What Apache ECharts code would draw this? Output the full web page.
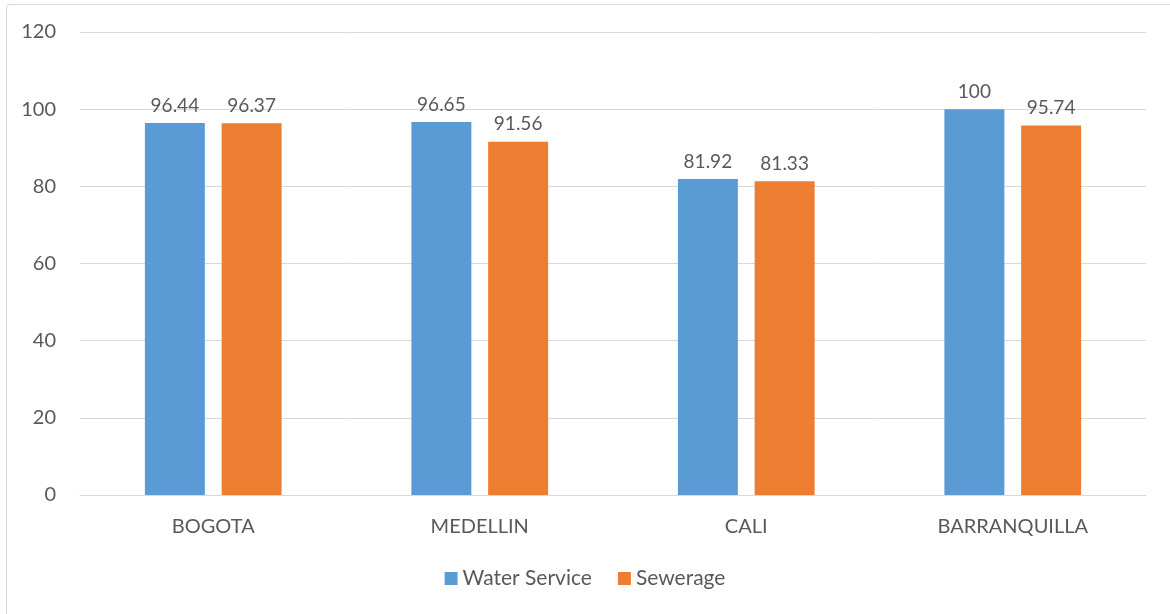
<!DOCTYPE html>
<html lang="en">
<head>
    <meta charset="UTF-8">
    <title>Water Service and Sewerage coverage</title>
    <script src="https://cdn.jsdelivr.net/npm/echarts@6/dist/echarts.min.js"></script>
    <style>
        html, body { margin: 0; padding: 0; background: #fff; }
        .frame {
            position: absolute;
            left: 6px;
            top: 4px;
            width: 1200px;
            height: 700px;
            border: 1px solid #d9d9d9;
            border-radius: 4px;
        }
        #chart {
            position: absolute;
            left: 0;
            top: 0;
            width: 1170px;
            height: 614px;
        }
    </style>
</head>
<body>
    <div class="frame"></div>
    <div id="chart"></div>
    <script type="text/javascript">
        var cities = ['BOGOTA', 'MEDELLIN', 'CALI', 'BARRANQUILLA'];
        var waterService = [96.44, 96.65, 81.92, 100];
        var sewerage = [96.37, 91.56, 81.33, 95.74];

        var textColor = '#595959';
        var font = 'Lato, "Open Sans", sans-serif';

        var myChart = echarts.init(document.getElementById('chart'));

        var barLabel = {
            show: true,
            position: 'top',
            distance: 8,
            color: textColor,
            fontSize: 19,
            fontFamily: font
        };

        var option = {
            animation: false,
            textStyle: { fontFamily: font },
            grid: { left: 80, right: 24, top: 32, bottom: 119 },
            legend: {
                data: ['Water Service', 'Sewerage'],
                bottom: 20,
                left: 'center',
                itemWidth: 13,
                itemHeight: 13,
                itemGap: 26,
                icon: 'rect',
                textStyle: { color: textColor, fontSize: 21, fontFamily: font }
            },
            xAxis: {
                type: 'category',
                data: cities,
                axisLine: { lineStyle: { color: '#d9d9d9', width: 1 } },
                axisTick: { show: false },
                axisLabel: { color: textColor, fontSize: 20, fontFamily: font, margin: 22 }
            },
            yAxis: {
                type: 'value',
                min: 0,
                max: 120,
                interval: 20,
                axisLine: { show: false },
                axisTick: { show: false },
                axisLabel: { color: textColor, fontSize: 20, fontFamily: font, margin: 24 },
                splitLine: { lineStyle: { color: '#d9d9d9', width: 1 } }
            },
            series: [
                {
                    name: 'Water Service',
                    type: 'bar',
                    data: waterService,
                    barWidth: '22.5%',
                    barGap: '28%',
                    itemStyle: { color: '#5B9BD5' },
                    label: barLabel
                },
                {
                    name: 'Sewerage',
                    type: 'bar',
                    data: sewerage,
                    barWidth: '22.5%',
                    itemStyle: { color: '#ED7D31' },
                    label: barLabel
                }
            ]
        };
        myChart.setOption(option);
    </script>
</body>
</html>
